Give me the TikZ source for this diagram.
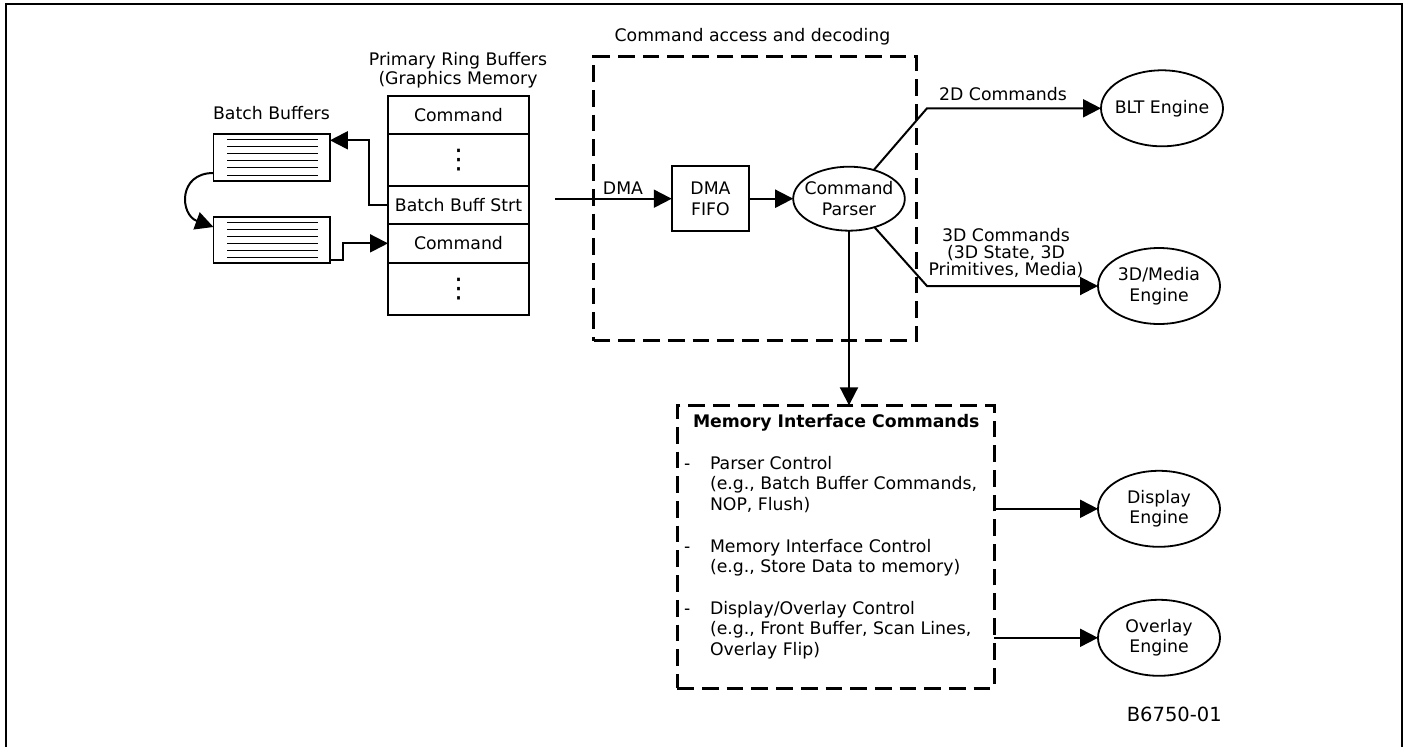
\documentclass[tikz,border=0pt]{standalone}
\usepackage{fontspec}
\setmainfont{DejaVu Sans}
\usetikzlibrary{arrows.meta,shapes.geometric}
\begin{document}
\begin{tikzpicture}[x=1pt,y=-1pt,
		every node/.style={inner sep=0pt, outer sep=0pt, font=\fontsize{17.3}{20.7}\selectfont},
		cell/.style={draw, line width=1.8pt, minimum width=141pt, anchor=north},
		batch/.style={draw, line width=1.8pt, minimum width=116.5pt, minimum height=46.5pt},
		engine/.style={draw, ellipse, inner xsep=-5pt, line width=1.8pt, minimum width=122pt, minimum height=76pt, align=center},
		frame/.style={draw, line width=3pt, dash pattern=on 16.7pt off 8pt},
		conn/.style={line width=2pt},
		arr/.style={conn, -{Triangle[length=18pt,width=18pt]}},
		para/.style={anchor=north west, align=left}]
	\useasboundingbox (0,0) rectangle (1406,747);
	\draw[line width=2pt] (6,747) -- (6,4) -- (1401.5,4) -- (1401.5,747);

	\node[frame, minimum width=323pt, minimum height=284pt] (access) at (755.2,198.7) {};
	\node[frame, minimum width=317pt, minimum height=283pt] (memif) at (835.8,546.8) {};

	\node[font=\fontsize{17.3}{19.3}\selectfont, align=center] (ringlabel) at (458,70) {Primary Ring Buffers\\(Graphics Memory};
	\node[cell, minimum height=38pt] (cmdone) at (458.5,95.7) {Command};
	\node[cell, minimum height=52.3pt] (dotsone) at (458.5,133.7) {};
	\node[cell, minimum height=38pt] (strt) at (458.5,186) {Batch Buff Strt};
	\node[cell, minimum height=38.7pt] (cmdtwo) at (458.5,224) {Command};
	\node[cell, minimum height=52.3pt] (dotstwo) at (458.5,262.7) {};
	\node[font=\fontsize{27}{27}\selectfont] (vdotsone) at (dotsone) {⋮};
	\node[font=\fontsize{27}{27}\selectfont] (vdotstwo) at (dotstwo) {⋮};

	\node (batchlabel) at (271.5,113) {Batch Buffers};
	\node[batch] (batchone) at (271.7,157.5) {};
	\node[batch] (batchtwo) at (271.7,240) {};
	\foreach \k in {0,...,5} {
		\draw[line width=1pt] (227,{139.3+7.15*\k}) -- (318,{139.3+7.15*\k});
		\draw[line width=1pt] (227,{222+7.15*\k}) -- (318,{222+7.15*\k});
	}

	\node[draw, line width=1.8pt, minimum width=77.5pt, minimum height=65pt, align=center] (fifo) at (710.5,198.7) {DMA\\FIFO};
	\node[draw, ellipse, inner xsep=-5pt, line width=1.8pt, minimum width=108pt, minimum height=64pt, align=center] (parser) at (849,198.7) {Command\\Parser};
	\node (accesslabel) at (752.5,37) {Command access and decoding};
	\node (dmalabel) at (623,188) {DMA};

	\node[engine] (blt) at (1162,108.3) {BLT Engine};
	\node[engine] (media) at (1159,286) {3D/Media\\Engine};
	\node[engine] (display) at (1159,508.8) {Display\\Engine};
	\node[engine] (overlay) at (1159,637.8) {Overlay\\Engine};

	\node (twodlabel) at (1003,94) {2D Commands};
	\node[font=\fontsize{17.3}{17.2}\selectfont, align=center] (threedlabel) at (1006,253) {3D Commands\\(3D State, 3D\\Primitives, Media)};

	\node[font=\fontsize{17.3}{20.7}\selectfont\bfseries, anchor=base west] (memtitle) at (693,427.7) {Memory Interface Commands};
	\node[para] (parserctl) at (710,456) {Parser Control\\(e.g., Batch Buffer Commands,\\NOP, Flush)};
	\node[para] (memctl) at (710,539) {Memory Interface Control\\(e.g., Store Data to memory)};
	\node[para] (dispctl) at (710,601) {Display/Overlay Control\\(e.g., Front Buffer, Scan Lines,\\Overlay Flip)};
	\node[anchor=base west] (dashone) at (684,469) {-};
	\node[anchor=base west] (dashtwo) at (684,552) {-};
	\node[anchor=base west] (dashthree) at (684,614) {-};

	\node[font=\fontsize{19.5}{20.7}\selectfont, anchor=base east] (figid) at (1221.7,721.7) {B6750-01};

	\coordinate (dmastart) at (555,198.7);
	\coordinate (turnone) at (369,140.3);
	\coordinate (turntwo) at (343,260);
	\coordinate (turntwod) at (927,108.3);
	\coordinate (turnthreed) at (927,286);

	\draw[arr] (strt.west) -| (turnone) -- ([yshift=17.2pt]batchone.east);
	\draw[arr] ([yshift=-20pt]batchtwo.east) -- (turntwo) |- (cmdtwo.west);
	\draw[arr] ([yshift=-15.5pt]batchone.west) to[out=180, in=160, looseness=1.7] ([yshift=13pt]batchtwo.west);
	\draw[arr] (dmastart) -- (fifo.west);
	\draw[arr] (fifo.east) -- (parser.west);
	\draw[arr] (parser) -- (turntwod) -- (blt.west);
	\draw[arr] (parser) -- (turnthreed) -- (media.west);
	\draw[arr] (parser.south) -- (memif.north -| parser.south);
	\draw[arr] (memif.east |- display.west) -- (display.west);
	\draw[arr] (memif.east |- overlay.west) -- (overlay.west);
\end{tikzpicture}
\end{document}
